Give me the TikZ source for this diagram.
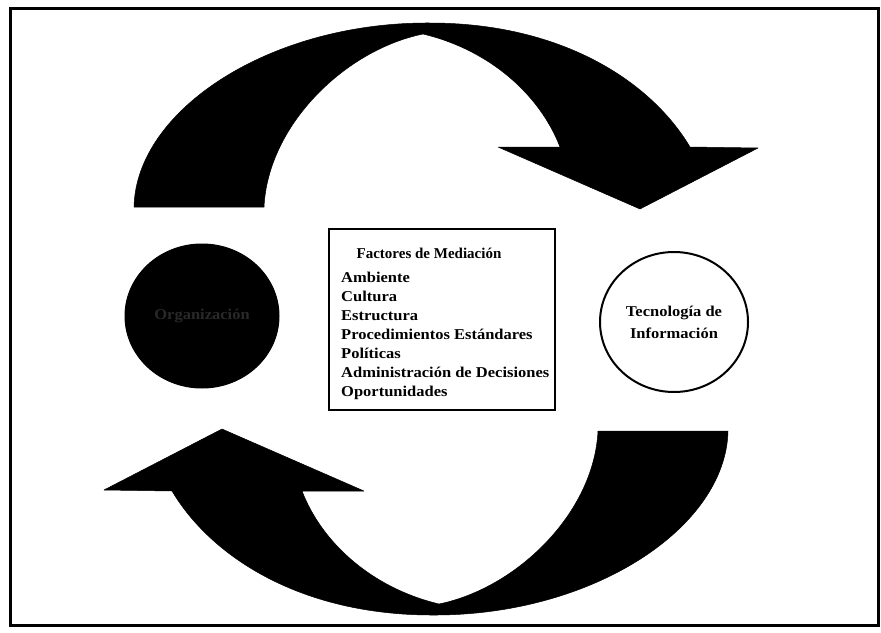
\documentclass[tikz,border=0pt]{standalone}
\usepackage{fontspec}
\setmainfont{Liberation Serif}
\newfontfamily\wfont{Liberation Serif}[FakeStretch=1.1]
\usetikzlibrary{shapes.geometric}
\definecolor{orgtext}{gray}{0.16}
\tikzset{
  band/.style={fill=black, draw=black, line width=0.5pt, line join=round},
  itemtxt/.style={anchor=base west, inner sep=0pt, font=\wfont\bfseries\fontsize{15}{19}\selectfont},
  circtxt/.style={font=\wfont\bfseries\fontsize{15}{22}\selectfont, align=center}
}
\begin{document}
\begin{tikzpicture}[x=1pt, y=-1pt]
\useasboundingbox (0,0) rectangle (881,632);
\fill[white] (0,0) rectangle (881,632);
% frame
\draw[line width=3pt] (10,8) rectangle (878,625);

% top curved arrow
\path[band] (134,207) .. controls (136,110) and (270,22) .. (430,23)
  .. controls (560,23) and (650,80) .. (690,147)
  -- (758,148) -- (640,209) -- (498,147) -- (560,147)
  .. controls (540,95) and (490,50) .. (423,34)
  .. controls (345,50) and (268,125) .. (264,207) -- cycle;

% bottom curved arrow (180 deg rotation)
\begin{scope}[rotate around={180:(431,319)}]
\path[band] (134,207) .. controls (136,110) and (270,22) .. (430,23)
  .. controls (560,23) and (650,80) .. (690,147)
  -- (758,148) -- (640,209) -- (498,147) -- (560,147)
  .. controls (540,95) and (490,50) .. (423,34)
  .. controls (345,50) and (268,125) .. (264,207) -- cycle;
\end{scope}

% left dark circle
\node[ellipse, fill=black, draw=black, line width=1pt, minimum width=154pt, minimum height=144pt,
      circtxt, text=orgtext] (org) at (202,316) {Organización};

% right circle
\node[ellipse, draw=black, line width=2pt, minimum width=148pt, minimum height=140pt,
      circtxt] (ti) at (674,322) {Tecnología de\\Información};

% center box
\draw[line width=2.5pt] (329,229) rectangle (555,410);
\node[anchor=base, inner sep=0pt, font=\bfseries\fontsize{15}{19}\selectfont] (title) at (429,258) {Factores de Mediación};
\node[itemtxt] (i1) at (341,282) {Ambiente};
\node[itemtxt] (i2) at (341,301) {Cultura};
\node[itemtxt] (i3) at (341,320) {Estructura};
\node[itemtxt] (i4) at (341,339) {Procedimientos Estándares};
\node[itemtxt] (i5) at (341,358) {Políticas};
\node[itemtxt] (i6) at (341,377) {Administración de Decisiones};
\node[itemtxt] (i7) at (341,396) {Oportunidades};
\end{tikzpicture}
\end{document}
